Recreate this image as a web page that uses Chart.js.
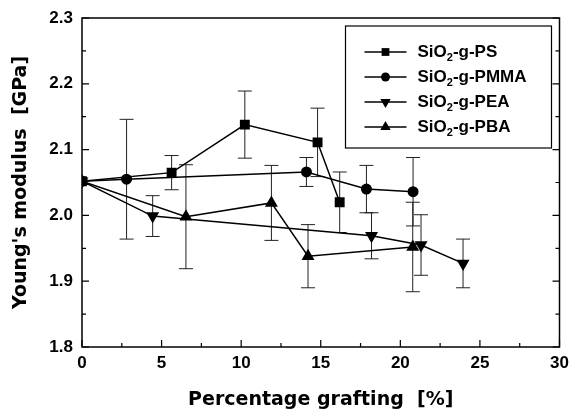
<!DOCTYPE html>
<html>
<head>
<meta charset="utf-8">
<script src="https://cdn.jsdelivr.net/npm/chart.js@4.4.1/dist/chart.umd.min.js"></script>
<style>
html, body { margin: 0; padding: 0; background: #fff; }
#wrap { width: 569px; height: 411px; position: relative; }
</style>
</head>
<body>
<div id="wrap"><canvas id="modulusChart"></canvas></div>
<script>
// Valeurs
const psX = [0, 5.63, 10.23, 14.8, 16.19];
const psY = [2.052, 2.065, 2.138, 2.111, 2.020];
const psErr = [0, 0.026, 0.051, 0.052, 0.046];

const pmmaX = [0, 2.8, 14.1, 17.87, 20.8];
const pmmaY = [2.052, 2.055, 2.066, 2.040, 2.036];
const pmmaErr = [0, 0.091, 0.022, 0.036, 0.052];

const peaX = [0, 4.44, 18.19, 21.3, 23.94];
const peaY = [2.052, 1.999, 1.969, 1.955, 1.927];
const peaErr = [0, 0.031, 0.035, 0.046, 0.037];

const pbaX = [0, 6.53, 11.9, 14.2, 20.78];
const pbaY = [2.052, 1.998, 2.019, 1.938, 1.952];
const pbaErr = [0, 0.079, 0.057, 0.048, 0.068];

const seriesNames = ['PS', 'PMMA', 'PEA', 'PBA'];

const tickFont = { family: '"Liberation Sans", Arial, sans-serif', size: 17, weight: 'bold' };
const titleFont = { family: '"DejaVu Sans", sans-serif', size: 19, weight: 'bold' };

const toPoints = (xs, ys) => xs.map((x, i) => ({ x: x, y: ys[i] }));

// Config des séries
const seriesConfigs = [
    { name: seriesNames[0], xs: psX, ys: psY, err: psErr, style: 'rect', radius: 7, legendR: 5.5, rotation: 0 },
    { name: seriesNames[1], xs: pmmaX, ys: pmmaY, err: pmmaErr, style: 'circle', radius: 5.5, legendR: 4.5, rotation: 0 },
    { name: seriesNames[2], xs: peaX, ys: peaY, err: peaErr, style: 'triangle', radius: 7.5, legendR: 6, rotation: 180 },
    { name: seriesNames[3], xs: pbaX, ys: pbaY, err: pbaErr, style: 'triangle', radius: 7.5, legendR: 6, rotation: 0 }
];

function drawMarker(ctx, style, x, y, r, rotation) {
    ctx.beginPath();
    if (style === 'rect') {
        const s = Math.SQRT1_2 * r;
        ctx.rect(x - s, y - s, 2 * s, 2 * s);
    } else if (style === 'circle') {
        ctx.arc(x, y, r, 0, Math.PI * 2);
    } else {
        let rad = rotation * Math.PI / 180;
        for (let k = 0; k < 3; k++) {
            const px = x + Math.sin(rad) * r;
            const py = y - Math.cos(rad) * r;
            if (k === 0) ctx.moveTo(px, py); else ctx.lineTo(px, py);
            rad += 2 * Math.PI / 3;
        }
        ctx.closePath();
    }
    ctx.fill();
}

// Barres d'erreur
const errorBars = {
    id: 'errorBars',
    beforeDatasetsDraw(chart) {
        const { ctx, scales: { x, y } } = chart;
        ctx.save();
        ctx.strokeStyle = '#222';
        ctx.lineWidth = 1;
        chart.data.datasets.forEach(ds => {
            ds.data.forEach((p, i) => {
                const e = ds.errors[i];
                if (!e) return;
                const px = x.getPixelForValue(p.x);
                const top = y.getPixelForValue(p.y + e);
                const bot = y.getPixelForValue(p.y - e);
                ctx.beginPath();
                ctx.moveTo(px, top); ctx.lineTo(px, bot);
                ctx.moveTo(px - 7, top); ctx.lineTo(px + 7, top);
                ctx.moveTo(px - 7, bot); ctx.lineTo(px + 7, bot);
                ctx.stroke();
            });
        });
        ctx.restore();
    }
};

// Cadre + graduations internes
const frameTicks = {
    id: 'frameTicks',
    afterDatasetsDraw(chart) {
        const { ctx, chartArea: a, scales: { x, y } } = chart;
        ctx.save();
        ctx.strokeStyle = '#000';
        ctx.lineWidth = 1.5;
        ctx.strokeRect(a.left, a.top, a.right - a.left, a.bottom - a.top);
        ctx.lineWidth = 1.2;
        ctx.beginPath();
        for (let v = x.min; v <= x.max + 1e-9; v += 2.5) {
            const px = x.getPixelForValue(v);
            const len = Math.abs(v % 5) < 1e-6 ? 7 : 4;
            ctx.moveTo(px, a.bottom); ctx.lineTo(px, a.bottom - len);
        }
        for (let k = 0; k <= 10; k++) {
            const v = y.min + k * 0.05;
            const py = y.getPixelForValue(v);
            const len = k % 2 === 0 ? 7 : 4;
            ctx.moveTo(a.left, py); ctx.lineTo(a.left + len, py);
            ctx.moveTo(a.right, py); ctx.lineTo(a.right - len, py);
        }
        ctx.stroke();
        ctx.restore();
    }
};

// Légende avec indice
const subLegend = {
    id: 'subLegend',
    afterDraw(chart) {
        const { ctx, chartArea: a } = chart;
        const boxR = a.right - 8, boxT = a.top + 8, boxW = 206, boxH = 122;
        const boxL = boxR - boxW;
        ctx.save();
        ctx.fillStyle = '#fff';
        ctx.fillRect(boxL, boxT, boxW, boxH);
        ctx.strokeStyle = '#000';
        ctx.lineWidth = 1.2;
        ctx.strokeRect(boxL, boxT, boxW, boxH);
        chart.data.datasets.forEach((ds, i) => {
            const rowY = boxT + 26 + i * 25;
            const lx = boxL + 19;
            ctx.lineWidth = 1.5;
            ctx.beginPath();
            ctx.moveTo(lx, rowY); ctx.lineTo(lx + 42, rowY);
            ctx.stroke();
            ctx.fillStyle = '#000';
            drawMarker(ctx, ds.pointStyle, lx + 21, rowY, ds.legendR, ds.pointRotation);
            let tx = boxL + 72;
            ctx.textBaseline = 'middle';
            ctx.font = 'bold 17px "Liberation Sans", Arial, sans-serif';
            ctx.fillText('SiO', tx, rowY);
            tx += ctx.measureText('SiO').width;
            ctx.font = 'bold 11px "Liberation Sans", Arial, sans-serif';
            ctx.fillText('2', tx, rowY + 6);
            tx += ctx.measureText('2').width;
            ctx.font = 'bold 17px "Liberation Sans", Arial, sans-serif';
            ctx.fillText('-g-' + ds.label, tx, rowY);
        });
        ctx.restore();
    }
};

try {
    const ctx = document.getElementById('modulusChart');
    new Chart(ctx, {
        type: 'scatter',
        data: {
            datasets: seriesConfigs.map(c => ({
                label: c.name,
                data: toPoints(c.xs, c.ys),
                errors: c.err,
                legendR: c.legendR,
                showLine: true,
                borderColor: '#000',
                backgroundColor: '#000',
                borderWidth: 1.5,
                pointStyle: c.style,
                pointRadius: c.radius,
                pointRotation: c.rotation,
                pointBorderWidth: 0,
                pointBackgroundColor: '#000'
            }))
        },
        options: {
            responsive: true,
            maintainAspectRatio: false,
            animation: false,
            layout: { padding: { top: 18, right: 9.5, left: 0, bottom: 0 } },
            plugins: {
                legend: { display: false },
                tooltip: { enabled: false }
            },
            scales: {
                x: {
                    type: 'linear',
                    min: 0,
                    max: 30,
                    ticks: { stepSize: 5, font: tickFont, color: '#000', padding: 6 },
                    grid: { display: false, drawTicks: false },
                    border: { display: false },
                    title: { display: true, text: 'Percentage grafting  [%]', font: titleFont, color: '#000', padding: 0 },
                    afterFit(s) { s.height = 64; s.paddingLeft = 0; s.paddingRight = 0; }
                },
                y: {
                    min: 1.8,
                    max: 2.3,
                    ticks: { stepSize: 0.1, font: tickFont, color: '#000', padding: 9, callback: v => v.toFixed(1) },
                    grid: { display: false, drawTicks: false },
                    border: { display: false },
                    title: { display: true, text: "Young's modulus  [GPa]", font: titleFont, color: '#000', padding: { top: 10, bottom: 0 } },
                    afterFit(s) { s.width = 82; s.paddingTop = 0; s.paddingBottom = 0; }
                }
            }
        },
        plugins: [errorBars, frameTicks, subLegend]
    });
} catch (error) {
    console.error('Error creating chart:', error);
}
</script>
</body>
</html>
